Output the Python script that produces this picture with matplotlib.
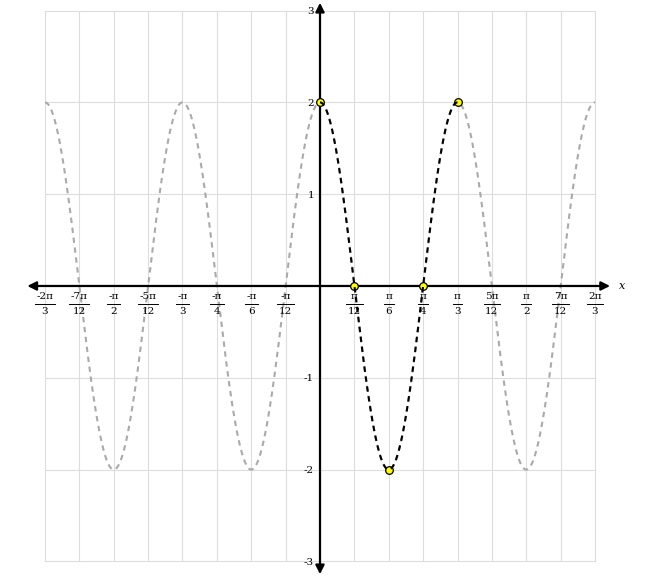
#!/usr/bin/env python3
"""Graph of y = 2 cos(6x) with key points on one period."""

import matplotlib

matplotlib.use("Agg")
import matplotlib.pyplot as plt
import numpy as np
from matplotlib.patches import FancyArrowPatch

# curve y = A cos(B x)
amplitude = 2
frequency = 6

# key points on one period (x in multiples of pi)
key_x = [0, 1 / 12, 1 / 6, 1 / 4, 1 / 3]
key_y = [2, 0, -2, 0, 2]

# x ticks in multiples of pi/12, with numerator / denominator of each label
x_ticks_twelfths = [-8, -7, -6, -5, -4, -3, -2, -1, 1, 2, 3, 4, 5, 6, 7, 8]
x_tick_num = ["-2π", "-7π", "-π", "-5π", "-π", "-π", "-π", "-π",
              "π", "π", "π", "π", "5π", "π", "7π", "2π"]
x_tick_den = ["3", "12", "2", "12", "3", "4", "6", "12",
              "12", "6", "4", "3", "12", "2", "12", "3"]
y_ticks = [-3, -2, -1, 1, 2, 3]


def main() -> None:
    plt.rcParams["font.family"] = "DejaVu Serif"

    fig = plt.figure(figsize=(6.66, 5.77), dpi=100)
    ax = fig.add_axes([0, 0, 1, 1])
    ax.set_xlim(-2.437, 2.635)
    ax.set_ylim(-3.17, 3.115)
    ax.axis("off")

    xmin, xmax = -2 * np.pi / 3, 2 * np.pi / 3
    step = np.pi / 12

    # grid, limited to the plotting window
    for k in range(-8, 9):
        ax.plot([k * step, k * step], [-3, 3], color="#dddddd", lw=0.8, zorder=0)
    for v in range(-3, 4):
        ax.plot([xmin, xmax], [v, v], color="#dddddd", lw=0.8, zorder=0)

    # axes with arrows
    ax.add_patch(FancyArrowPatch((-2.25, 0), (2.23, 0), arrowstyle="<|-|>",
                                 mutation_scale=13, lw=1.6, color="black", zorder=3))
    ax.add_patch(FancyArrowPatch((0, -3.17), (0, 3.115), arrowstyle="<|-|>",
                                 mutation_scale=13, lw=1.6, color="black", zorder=3))
    ax.text(2.28, -0.005, "x", fontsize=8, style="italic", va="center", ha="left")

    # tick labels as stacked fractions
    renderer = fig.canvas.get_renderer()
    px = (ax.get_xlim()[1] - ax.get_xlim()[0]) / fig.bbox.width
    for k, num, den in zip(x_ticks_twelfths, x_tick_num, x_tick_den):
        xc = k * step
        t1 = ax.text(xc, -0.12, num, fontsize=7.5, ha="center", va="center", zorder=4)
        t2 = ax.text(xc, -0.275, den, fontsize=7.5, ha="center", va="center", zorder=4)
        w = max(t1.get_window_extent(renderer).width, t2.get_window_extent(renderer).width)
        half = (w / 2 + 1.5) * px
        ax.plot([xc - half, xc + half], [-0.195, -0.195], color="black", lw=0.7, zorder=4)
    for v in y_ticks:
        ax.text(-0.045, v - 0.01, str(v), fontsize=7.5, ha="right", va="center", zorder=4)

    # full curve (faded)
    xs = np.linspace(xmin, xmax, 1200)
    ax.plot(xs, amplitude * np.cos(frequency * xs), color="#aaaaaa", lw=1.5,
            ls=(0, (2.6, 2.2)), zorder=2)

    ax.plot(np.array(key_x) * np.pi, key_y, "o", ms=5.5, mfc="#ffff00", mec="black",
            mew=0.9, zorder=3.5)

    # one period highlighted
    xp = np.linspace(0, np.pi / 3, 400)
    ax.plot(xp, amplitude * np.cos(frequency * xp), color="black", lw=1.5,
            ls=(0, (2.6, 2.2)), zorder=4)

    fig.savefig("out.png", dpi=100)
    plt.close(fig)


if __name__ == "__main__":
    main()
